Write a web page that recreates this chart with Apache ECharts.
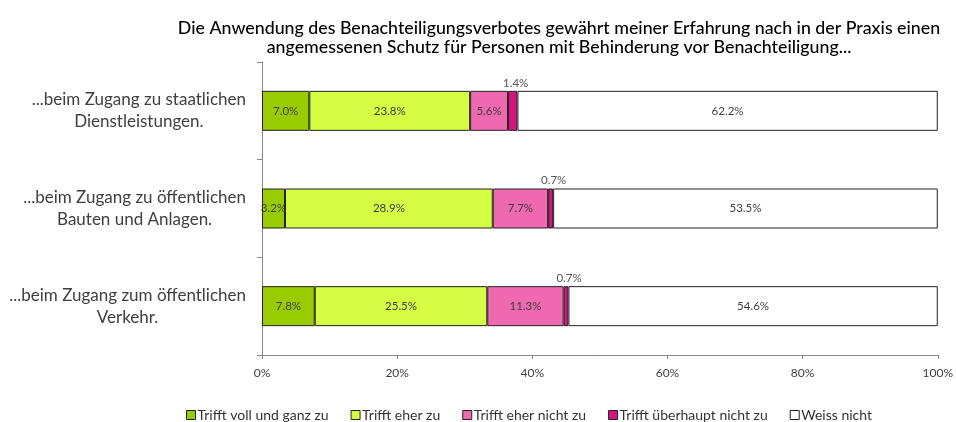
<!DOCTYPE html>
<html>
<head>
<meta charset="utf-8">
<script src="https://cdn.jsdelivr.net/npm/echarts@6/dist/echarts.min.js"></script>
<style>
  html, body { margin: 0; padding: 0; background: #fff; }
  #chart { width: 956px; height: 422px; }
</style>
</head>
<body>
<div id="chart"></div>
<script>
// Kategorien (von oben nach unten)
var categories = [
  ['...beim Zugang zu staatlichen', 'Dienstleistungen.'],
  ['...beim Zugang zu öffentlichen', 'Bauten und Anlagen.'],
  ['...beim Zugang zum öffentlichen', 'Verkehr.']
];
var seriesNames = ['Trifft voll und ganz zu', 'Trifft eher zu', 'Trifft eher nicht zu', 'Trifft überhaupt nicht zu', 'Weiss nicht'];
// Werte in Prozent, wie beschriftet
var vollUndGanz = [7.0, 3.2, 7.8];
var eher = [23.8, 28.9, 25.5];
var eherNicht = [5.6, 7.7, 11.3];
var ueberhauptNicht = [1.4, 0.7, 0.7];
var weissNicht = [62.2, 53.5, 54.6];
var xTicks = [0, 20, 40, 60, 80, 100];
var colors = ['#99cc00', '#d4fd44', '#ef69b0', '#d4147f', '#ffffff'];

var rows = [vollUndGanz, eher, eherNicht, ueberhauptNicht, weissNicht];
// 100%-Stapel: Anteil an der Zeilensumme
var sums = categories.map(function (c, i) {
  var s = 0;
  rows.forEach(function (r) { s += r[i]; });
  return s;
});

var font = 'Lato';
var series = rows.map(function (r, k) {
  var small = (k === 3);
  return {
    name: seriesNames[k],
    type: 'bar',
    stack: 'total',
    barWidth: 40,
    itemStyle: { color: colors[k], borderColor: '#222', borderWidth: 1 },
    label: {
      show: true,
      position: small ? 'top' : 'inside',
      distance: 2,
      offset: small ? [3, 0] : [0, 0],
      color: small ? '#555' : '#404040',
      fontFamily: font,
      fontSize: 11.5,
      formatter: function (p) { return r[p.dataIndex].toFixed(1) + '%'; }
    },
    data: r.map(function (v, i) { return v / sums[i] * 100; })
  };
});

var chart = echarts.init(document.getElementById('chart'));
chart.setOption({
  animation: false,
  color: colors,
  title: {
    text: 'Die Anwendung des Benachteiligungsverbotes gewährt meiner Erfahrung nach in der Praxis einen\nangemessenen Schutz für Personen mit Behinderung vor Benachteiligung...',
    left: 554,
    textAlign: 'center',
    top: 14,
    textStyle: { fontFamily: font, fontSize: 17.8, fontWeight: 500, color: '#000', lineHeight: 19 }
  },
  legend: {
    data: seriesNames,
    left: 181,
    top: 403,
    itemWidth: 9,
    itemHeight: 9,
    itemGap: 22,
    icon: 'rect',
    itemStyle: { borderColor: '#222', borderWidth: 1 },
    textStyle: { fontFamily: font, fontSize: 14, color: '#333', padding: [0, 0, 0, -3] }
  },
  grid: { left: 262, right: 18, top: 62, bottom: 67 },
  xAxis: {
    type: 'value',
    min: 0,
    max: 100,
    interval: 20,
    axisLine: { show: true, lineStyle: { color: '#888' } },
    axisTick: { show: true, length: 4, lineStyle: { color: '#888' } },
    splitLine: { show: false },
    axisLabel: {
      fontFamily: font, fontSize: 12, color: '#404040', margin: 12,
      formatter: function (v) { return xTicks.indexOf(v) >= 0 ? v + '%' : ''; }
    }
  },
  yAxis: {
    type: 'category',
    inverse: true,
    data: categories.map(function (c) { return c.join('\n'); }),
    axisLine: { show: true, lineStyle: { color: '#888' } },
    axisTick: { show: true, length: 5, lineStyle: { color: '#888' } },
    axisLabel: {
      align: 'right',
      margin: 16,
      formatter: function (v) {
        return v.split('\n').map(function (s) { return '{c|' + s + '}'; }).join('\n');
      },
      rich: {
        c: { fontFamily: font, fontSize: 17, color: '#404040', align: 'center', lineHeight: 22 }
      }
    }
  },
  series: series
});
</script>
</body>
</html>
